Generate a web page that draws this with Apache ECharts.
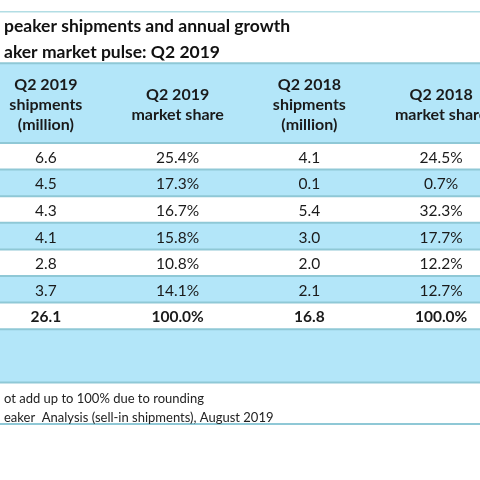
<!DOCTYPE html>
<html><head><meta charset="utf-8">
<script src="https://cdn.jsdelivr.net/npm/echarts@6/dist/echarts.min.js"></script>
<style>html,body{margin:0;padding:0;background:#fff}#c{width:480px;height:480px}</style>
</head><body><div id="c"></div>
<script>
// ---- data ----
const titleLines = ['peaker shipments and annual growth', 'aker market pulse: Q2 2019'];
const columns = ['Q2 2019\nshipments\n(million)', 'Q2 2019\nmarket share', 'Q2 2018\nshipments\n(million)', 'Q2 2018\nmarket share'];
const shipments2019 = [6.6, 4.5, 4.3, 4.1, 2.8, 3.7];
const share2019 = [25.4, 17.3, 16.7, 15.8, 10.8, 14.1];
const shipments2018 = [4.1, 0.1, 5.4, 3.0, 2.0, 2.1];
const share2018 = [24.5, 0.7, 32.3, 17.7, 12.2, 12.7];
const totals = [26.1, 100.0, 16.8, 100.0];
const footnotes = ['ot add up to 100% due to rounding', 'eaker  Analysis (sell-in shipments), August 2019'];

// ---- build ----
const BLUE = '#b3e6f9', WHITE = '#ffffff', LINE = '#8fc8d6';
const FONT = 'Lato, "Noto Sans", sans-serif';
const colValues = [shipments2019, share2019, shipments2018, share2018];
const isPct = [false, true, false, true];
const fmt = (v, c) => v.toFixed(1) + (isPct[c] ? '%' : '');

const cells = [];
for (let r = 0; r < shipments2019.length; r++) {
  for (let c = 0; c < 4; c++) cells.push([c, r + 0.5, fmt(colValues[c][r], c), 0]);
}
const totalRow = shipments2019.length;
for (let c = 0; c < 4; c++) cells.push([c, totalRow + 0.5, fmt(totals[c], c), 1]);

// bands: [start, end, isBlue]
const bands = [[-3, 0, 1]];
for (let r = 0; r <= totalRow; r++) bands.push([r, r + 1, r % 2]);
bands.push([totalRow + 1, totalRow + 3, 1]);
// separators (row units): [pos, kind]
const seps = [[-4.93, 0], [-3, 1]];
for (let r = 0; r <= totalRow + 1; r++) seps.push([r, 1]);
seps.push([totalRow + 3, 1]);
seps.push([10.56, 1]);

const chart = echarts.init(document.getElementById('c'));
chart.setOption({
  animation: false,
  title: [
    { text: titleLines.join('\n'), left: -1, top: 8,
      textStyle: { fontFamily: FONT, fontSize: 17.5, fontWeight: 'bold', color: '#111', lineHeight: 26 } },
    { text: footnotes.join('\n'), left: -1, top: 384,
      textStyle: { fontFamily: FONT, fontSize: 13, fontWeight: 'normal', color: '#222', lineHeight: 19 } }
  ],
  grid: { left: -20, width: 527, top: 143, height: 186.2, containLabel: false, outerBoundsMode: 'none' },
  xAxis: {
    type: 'category', position: 'top', data: columns, z: 10,
    axisLine: { show: false }, axisTick: { show: false }, splitLine: { show: false },
    axisLabel: { interval: 0, margin: 38, verticalAlign: 'middle', fontFamily: FONT, fontSize: 16,
      fontWeight: 'bold', color: '#1a1a1a', lineHeight: 20, hideOverlap: false }
  },
  yAxis: { type: 'value', inverse: true, min: 0, max: 7, show: false },
  series: [
    {
      type: 'custom', data: bands, silent: true, z: 1,
      renderItem: (p, api) => {
        const cs = p.coordSys;
        const y0 = api.coord([0, api.value(0)])[1], y1 = api.coord([0, api.value(1)])[1];
        return { type: 'rect', shape: { x: cs.x, y: y0, width: cs.width, height: y1 - y0 },
          style: { fill: api.value(2) ? BLUE : WHITE } };
      }
    },
    {
      type: 'custom', data: seps, silent: true, z: 2,
      renderItem: (p, api) => {
        const cs = p.coordSys;
        const y = api.coord([0, api.value(0)])[1];
        const k = api.value(1);
        return { type: 'line', shape: { x1: cs.x, y1: y, x2: cs.x + cs.width, y2: y },
          style: { stroke: k ? LINE : '#b2dde4', lineWidth: k ? 2 : 1.5 } };
      }
    },
    {
      type: 'custom', data: cells, silent: true, z: 3,
      renderItem: (p, api) => {
        const pt = api.coord([api.value(0), api.value(1)]);
        const bold = api.value(3);
        return { type: 'text', x: pt[0], y: pt[1] + 1.5,
          style: { text: cells[p.dataIndex][2], align: 'center', verticalAlign: 'middle',
            fontFamily: FONT, fontSize: 15.5, fontWeight: bold ? 'bold' : 'normal', fill: '#1a1a1a' } };
      }
    }
  ]
});
</script></body></html>
